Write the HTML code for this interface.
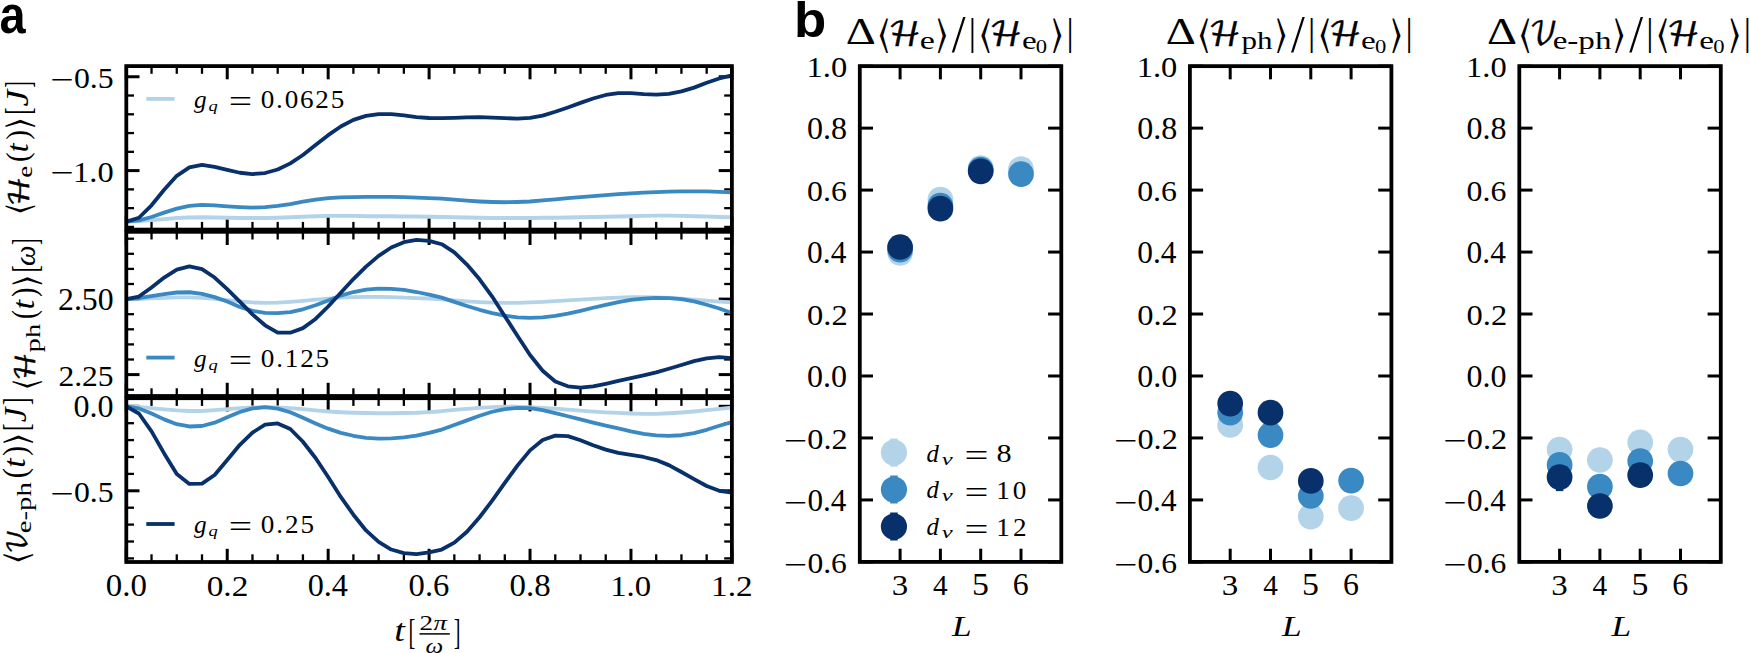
<!DOCTYPE html>
<html lang="en"><head><meta charset="utf-8"><title>Figure</title>
<style>
html,body{margin:0;padding:0;background:#fff;}
body{width:1749px;height:653px;overflow:hidden;}
svg{display:block;}
text{font-kerning:none;white-space:pre;}
</style></head><body>
<svg width="1749" height="653" viewBox="0 0 1749 653">
<rect width="1749" height="653" fill="#fff"/>
<g id="pa0">
<line x1="126.30" y1="66.10" x2="126.30" y2="79.30" stroke="#000" stroke-width="3.0" stroke-linecap="butt"/>
<line x1="126.30" y1="229.60" x2="126.30" y2="216.40" stroke="#000" stroke-width="3.0" stroke-linecap="butt"/>
<line x1="151.53" y1="66.10" x2="151.53" y2="73.80" stroke="#000" stroke-width="2.3" stroke-linecap="butt"/>
<line x1="151.53" y1="229.60" x2="151.53" y2="221.90" stroke="#000" stroke-width="2.3" stroke-linecap="butt"/>
<line x1="176.77" y1="66.10" x2="176.77" y2="73.80" stroke="#000" stroke-width="2.3" stroke-linecap="butt"/>
<line x1="176.77" y1="229.60" x2="176.77" y2="221.90" stroke="#000" stroke-width="2.3" stroke-linecap="butt"/>
<line x1="202.00" y1="66.10" x2="202.00" y2="73.80" stroke="#000" stroke-width="2.3" stroke-linecap="butt"/>
<line x1="202.00" y1="229.60" x2="202.00" y2="221.90" stroke="#000" stroke-width="2.3" stroke-linecap="butt"/>
<line x1="227.23" y1="66.10" x2="227.23" y2="79.30" stroke="#000" stroke-width="3.0" stroke-linecap="butt"/>
<line x1="227.23" y1="229.60" x2="227.23" y2="216.40" stroke="#000" stroke-width="3.0" stroke-linecap="butt"/>
<line x1="252.47" y1="66.10" x2="252.47" y2="73.80" stroke="#000" stroke-width="2.3" stroke-linecap="butt"/>
<line x1="252.47" y1="229.60" x2="252.47" y2="221.90" stroke="#000" stroke-width="2.3" stroke-linecap="butt"/>
<line x1="277.70" y1="66.10" x2="277.70" y2="73.80" stroke="#000" stroke-width="2.3" stroke-linecap="butt"/>
<line x1="277.70" y1="229.60" x2="277.70" y2="221.90" stroke="#000" stroke-width="2.3" stroke-linecap="butt"/>
<line x1="302.93" y1="66.10" x2="302.93" y2="73.80" stroke="#000" stroke-width="2.3" stroke-linecap="butt"/>
<line x1="302.93" y1="229.60" x2="302.93" y2="221.90" stroke="#000" stroke-width="2.3" stroke-linecap="butt"/>
<line x1="328.17" y1="66.10" x2="328.17" y2="79.30" stroke="#000" stroke-width="3.0" stroke-linecap="butt"/>
<line x1="328.17" y1="229.60" x2="328.17" y2="216.40" stroke="#000" stroke-width="3.0" stroke-linecap="butt"/>
<line x1="353.40" y1="66.10" x2="353.40" y2="73.80" stroke="#000" stroke-width="2.3" stroke-linecap="butt"/>
<line x1="353.40" y1="229.60" x2="353.40" y2="221.90" stroke="#000" stroke-width="2.3" stroke-linecap="butt"/>
<line x1="378.63" y1="66.10" x2="378.63" y2="73.80" stroke="#000" stroke-width="2.3" stroke-linecap="butt"/>
<line x1="378.63" y1="229.60" x2="378.63" y2="221.90" stroke="#000" stroke-width="2.3" stroke-linecap="butt"/>
<line x1="403.87" y1="66.10" x2="403.87" y2="73.80" stroke="#000" stroke-width="2.3" stroke-linecap="butt"/>
<line x1="403.87" y1="229.60" x2="403.87" y2="221.90" stroke="#000" stroke-width="2.3" stroke-linecap="butt"/>
<line x1="429.10" y1="66.10" x2="429.10" y2="79.30" stroke="#000" stroke-width="3.0" stroke-linecap="butt"/>
<line x1="429.10" y1="229.60" x2="429.10" y2="216.40" stroke="#000" stroke-width="3.0" stroke-linecap="butt"/>
<line x1="454.33" y1="66.10" x2="454.33" y2="73.80" stroke="#000" stroke-width="2.3" stroke-linecap="butt"/>
<line x1="454.33" y1="229.60" x2="454.33" y2="221.90" stroke="#000" stroke-width="2.3" stroke-linecap="butt"/>
<line x1="479.57" y1="66.10" x2="479.57" y2="73.80" stroke="#000" stroke-width="2.3" stroke-linecap="butt"/>
<line x1="479.57" y1="229.60" x2="479.57" y2="221.90" stroke="#000" stroke-width="2.3" stroke-linecap="butt"/>
<line x1="504.80" y1="66.10" x2="504.80" y2="73.80" stroke="#000" stroke-width="2.3" stroke-linecap="butt"/>
<line x1="504.80" y1="229.60" x2="504.80" y2="221.90" stroke="#000" stroke-width="2.3" stroke-linecap="butt"/>
<line x1="530.03" y1="66.10" x2="530.03" y2="79.30" stroke="#000" stroke-width="3.0" stroke-linecap="butt"/>
<line x1="530.03" y1="229.60" x2="530.03" y2="216.40" stroke="#000" stroke-width="3.0" stroke-linecap="butt"/>
<line x1="555.27" y1="66.10" x2="555.27" y2="73.80" stroke="#000" stroke-width="2.3" stroke-linecap="butt"/>
<line x1="555.27" y1="229.60" x2="555.27" y2="221.90" stroke="#000" stroke-width="2.3" stroke-linecap="butt"/>
<line x1="580.50" y1="66.10" x2="580.50" y2="73.80" stroke="#000" stroke-width="2.3" stroke-linecap="butt"/>
<line x1="580.50" y1="229.60" x2="580.50" y2="221.90" stroke="#000" stroke-width="2.3" stroke-linecap="butt"/>
<line x1="605.73" y1="66.10" x2="605.73" y2="73.80" stroke="#000" stroke-width="2.3" stroke-linecap="butt"/>
<line x1="605.73" y1="229.60" x2="605.73" y2="221.90" stroke="#000" stroke-width="2.3" stroke-linecap="butt"/>
<line x1="630.97" y1="66.10" x2="630.97" y2="79.30" stroke="#000" stroke-width="3.0" stroke-linecap="butt"/>
<line x1="630.97" y1="229.60" x2="630.97" y2="216.40" stroke="#000" stroke-width="3.0" stroke-linecap="butt"/>
<line x1="656.20" y1="66.10" x2="656.20" y2="73.80" stroke="#000" stroke-width="2.3" stroke-linecap="butt"/>
<line x1="656.20" y1="229.60" x2="656.20" y2="221.90" stroke="#000" stroke-width="2.3" stroke-linecap="butt"/>
<line x1="681.43" y1="66.10" x2="681.43" y2="73.80" stroke="#000" stroke-width="2.3" stroke-linecap="butt"/>
<line x1="681.43" y1="229.60" x2="681.43" y2="221.90" stroke="#000" stroke-width="2.3" stroke-linecap="butt"/>
<line x1="706.67" y1="66.10" x2="706.67" y2="73.80" stroke="#000" stroke-width="2.3" stroke-linecap="butt"/>
<line x1="706.67" y1="229.60" x2="706.67" y2="221.90" stroke="#000" stroke-width="2.3" stroke-linecap="butt"/>
<line x1="731.90" y1="66.10" x2="731.90" y2="79.30" stroke="#000" stroke-width="3.0" stroke-linecap="butt"/>
<line x1="731.90" y1="229.60" x2="731.90" y2="216.40" stroke="#000" stroke-width="3.0" stroke-linecap="butt"/>
<line x1="126.30" y1="226.91" x2="134.00" y2="226.91" stroke="#000" stroke-width="2.3" stroke-linecap="butt"/>
<line x1="731.90" y1="226.91" x2="724.20" y2="226.91" stroke="#000" stroke-width="2.3" stroke-linecap="butt"/>
<line x1="126.30" y1="208.14" x2="134.00" y2="208.14" stroke="#000" stroke-width="2.3" stroke-linecap="butt"/>
<line x1="731.90" y1="208.14" x2="724.20" y2="208.14" stroke="#000" stroke-width="2.3" stroke-linecap="butt"/>
<line x1="126.30" y1="189.37" x2="134.00" y2="189.37" stroke="#000" stroke-width="2.3" stroke-linecap="butt"/>
<line x1="731.90" y1="189.37" x2="724.20" y2="189.37" stroke="#000" stroke-width="2.3" stroke-linecap="butt"/>
<line x1="126.30" y1="170.60" x2="139.50" y2="170.60" stroke="#000" stroke-width="3.0" stroke-linecap="butt"/>
<line x1="731.90" y1="170.60" x2="718.70" y2="170.60" stroke="#000" stroke-width="3.0" stroke-linecap="butt"/>
<line x1="126.30" y1="151.83" x2="134.00" y2="151.83" stroke="#000" stroke-width="2.3" stroke-linecap="butt"/>
<line x1="731.90" y1="151.83" x2="724.20" y2="151.83" stroke="#000" stroke-width="2.3" stroke-linecap="butt"/>
<line x1="126.30" y1="133.06" x2="134.00" y2="133.06" stroke="#000" stroke-width="2.3" stroke-linecap="butt"/>
<line x1="731.90" y1="133.06" x2="724.20" y2="133.06" stroke="#000" stroke-width="2.3" stroke-linecap="butt"/>
<line x1="126.30" y1="114.29" x2="134.00" y2="114.29" stroke="#000" stroke-width="2.3" stroke-linecap="butt"/>
<line x1="731.90" y1="114.29" x2="724.20" y2="114.29" stroke="#000" stroke-width="2.3" stroke-linecap="butt"/>
<line x1="126.30" y1="95.52" x2="134.00" y2="95.52" stroke="#000" stroke-width="2.3" stroke-linecap="butt"/>
<line x1="731.90" y1="95.52" x2="724.20" y2="95.52" stroke="#000" stroke-width="2.3" stroke-linecap="butt"/>
<line x1="126.30" y1="76.75" x2="139.50" y2="76.75" stroke="#000" stroke-width="3.0" stroke-linecap="butt"/>
<line x1="731.90" y1="76.75" x2="718.70" y2="76.75" stroke="#000" stroke-width="3.0" stroke-linecap="butt"/>
<clipPath id="cl0"><rect x="126.3" y="66.1" width="605.6" height="163.5"/></clipPath>
<g clip-path="url(#cl0)" fill="none" stroke-width="3.8" stroke-linejoin="round" stroke-linecap="butt">
<path d="M126.30,221.57 L138.92,221.06 L151.53,220.04 L164.15,219.02 L176.77,218.01 L189.38,217.50 L202.00,217.25 L214.62,217.50 L227.23,217.75 L239.85,218.01 L252.47,218.01 L265.08,218.01 L277.70,217.75 L290.32,217.25 L302.93,216.74 L315.55,216.23 L328.17,215.97 L340.78,215.97 L353.40,215.97 L366.02,216.23 L378.63,216.23 L391.25,216.23 L403.87,216.48 L416.48,216.48 L429.10,216.74 L441.72,216.99 L454.33,217.25 L466.95,217.50 L479.57,217.75 L492.18,218.01 L504.80,218.01 L517.42,218.01 L530.03,218.01 L542.65,217.75 L555.27,217.75 L567.88,217.50 L580.50,217.25 L593.12,216.99 L605.73,216.74 L618.35,216.48 L630.97,216.23 L643.58,215.97 L656.20,215.72 L668.82,215.72 L681.43,215.97 L694.05,216.23 L706.67,216.48 L719.28,216.99 L731.90,217.25" stroke="#b3d3e8"/>
<path d="M126.30,221.57 L138.92,220.30 L151.53,216.99 L164.15,212.67 L176.77,208.60 L189.38,205.81 L202.00,204.79 L214.62,205.30 L227.23,206.32 L239.85,207.08 L252.47,207.59 L265.08,207.08 L277.70,205.81 L290.32,204.03 L302.93,201.74 L315.55,199.71 L328.17,198.18 L340.78,197.42 L353.40,197.16 L366.02,196.91 L378.63,196.91 L391.25,196.91 L403.87,197.16 L416.48,197.67 L429.10,198.05 L441.72,198.69 L454.33,199.71 L466.95,200.72 L479.57,201.49 L492.18,201.99 L504.80,202.25 L517.42,201.99 L530.03,201.49 L542.65,200.47 L555.27,199.45 L567.88,198.18 L580.50,197.16 L593.12,196.15 L605.73,195.13 L618.35,194.11 L630.97,193.35 L643.58,192.59 L656.20,192.08 L668.82,191.57 L681.43,191.32 L694.05,191.32 L706.67,191.32 L719.28,191.83 L731.90,192.33" stroke="#3a89c2"/>
<path d="M126.30,221.57 L138.92,217.75 L151.53,205.30 L164.15,189.79 L176.77,175.81 L189.38,167.42 L202.00,164.88 L214.62,166.92 L227.23,169.97 L239.85,172.76 L252.47,174.03 L265.08,173.02 L277.70,169.46 L290.32,163.36 L302.93,154.97 L315.55,145.05 L328.17,135.14 L340.78,126.50 L353.40,119.89 L366.02,115.82 L378.63,114.04 L391.25,114.04 L403.87,115.31 L416.48,117.09 L429.10,117.98 L441.72,118.11 L454.33,117.86 L466.95,117.35 L479.57,117.09 L492.18,117.60 L504.80,118.11 L517.42,118.62 L530.03,117.86 L542.65,115.57 L555.27,111.75 L567.88,107.43 L580.50,102.86 L593.12,98.54 L605.73,94.98 L618.35,93.20 L630.97,93.20 L643.58,94.22 L656.20,94.72 L668.82,93.96 L681.43,91.42 L694.05,87.61 L706.67,82.78 L719.28,78.46 L731.90,75.41" stroke="#08306b"/>
</g>
<rect x="126.3" y="66.1" width="605.60" height="163.50" fill="none" stroke="#000" stroke-width="3.8"/>
<text transform="translate(50.03,89.55) scale(1.3599,1)" font-family='"Liberation Serif", serif'  font-size="30.5" fill="#000" >−</text>
<text transform="translate(73.89,87.65) scale(1.0427,1)" font-family='"Liberation Serif", serif'  font-size="30.5" fill="#000" >0.5</text>
<text transform="translate(50.03,183.40) scale(1.3599,1)" font-family='"Liberation Serif", serif'  font-size="30.5" fill="#000" >−</text>
<text transform="translate(73.05,181.50) scale(1.0647,1)" font-family='"Liberation Serif", serif'  font-size="30.5" fill="#000" >1.0</text>
</g>
<g id="pa1">
<line x1="126.30" y1="231.80" x2="126.30" y2="245.00" stroke="#000" stroke-width="3.0" stroke-linecap="butt"/>
<line x1="126.30" y1="396.00" x2="126.30" y2="382.80" stroke="#000" stroke-width="3.0" stroke-linecap="butt"/>
<line x1="151.53" y1="231.80" x2="151.53" y2="239.50" stroke="#000" stroke-width="2.3" stroke-linecap="butt"/>
<line x1="151.53" y1="396.00" x2="151.53" y2="388.30" stroke="#000" stroke-width="2.3" stroke-linecap="butt"/>
<line x1="176.77" y1="231.80" x2="176.77" y2="239.50" stroke="#000" stroke-width="2.3" stroke-linecap="butt"/>
<line x1="176.77" y1="396.00" x2="176.77" y2="388.30" stroke="#000" stroke-width="2.3" stroke-linecap="butt"/>
<line x1="202.00" y1="231.80" x2="202.00" y2="239.50" stroke="#000" stroke-width="2.3" stroke-linecap="butt"/>
<line x1="202.00" y1="396.00" x2="202.00" y2="388.30" stroke="#000" stroke-width="2.3" stroke-linecap="butt"/>
<line x1="227.23" y1="231.80" x2="227.23" y2="245.00" stroke="#000" stroke-width="3.0" stroke-linecap="butt"/>
<line x1="227.23" y1="396.00" x2="227.23" y2="382.80" stroke="#000" stroke-width="3.0" stroke-linecap="butt"/>
<line x1="252.47" y1="231.80" x2="252.47" y2="239.50" stroke="#000" stroke-width="2.3" stroke-linecap="butt"/>
<line x1="252.47" y1="396.00" x2="252.47" y2="388.30" stroke="#000" stroke-width="2.3" stroke-linecap="butt"/>
<line x1="277.70" y1="231.80" x2="277.70" y2="239.50" stroke="#000" stroke-width="2.3" stroke-linecap="butt"/>
<line x1="277.70" y1="396.00" x2="277.70" y2="388.30" stroke="#000" stroke-width="2.3" stroke-linecap="butt"/>
<line x1="302.93" y1="231.80" x2="302.93" y2="239.50" stroke="#000" stroke-width="2.3" stroke-linecap="butt"/>
<line x1="302.93" y1="396.00" x2="302.93" y2="388.30" stroke="#000" stroke-width="2.3" stroke-linecap="butt"/>
<line x1="328.17" y1="231.80" x2="328.17" y2="245.00" stroke="#000" stroke-width="3.0" stroke-linecap="butt"/>
<line x1="328.17" y1="396.00" x2="328.17" y2="382.80" stroke="#000" stroke-width="3.0" stroke-linecap="butt"/>
<line x1="353.40" y1="231.80" x2="353.40" y2="239.50" stroke="#000" stroke-width="2.3" stroke-linecap="butt"/>
<line x1="353.40" y1="396.00" x2="353.40" y2="388.30" stroke="#000" stroke-width="2.3" stroke-linecap="butt"/>
<line x1="378.63" y1="231.80" x2="378.63" y2="239.50" stroke="#000" stroke-width="2.3" stroke-linecap="butt"/>
<line x1="378.63" y1="396.00" x2="378.63" y2="388.30" stroke="#000" stroke-width="2.3" stroke-linecap="butt"/>
<line x1="403.87" y1="231.80" x2="403.87" y2="239.50" stroke="#000" stroke-width="2.3" stroke-linecap="butt"/>
<line x1="403.87" y1="396.00" x2="403.87" y2="388.30" stroke="#000" stroke-width="2.3" stroke-linecap="butt"/>
<line x1="429.10" y1="231.80" x2="429.10" y2="245.00" stroke="#000" stroke-width="3.0" stroke-linecap="butt"/>
<line x1="429.10" y1="396.00" x2="429.10" y2="382.80" stroke="#000" stroke-width="3.0" stroke-linecap="butt"/>
<line x1="454.33" y1="231.80" x2="454.33" y2="239.50" stroke="#000" stroke-width="2.3" stroke-linecap="butt"/>
<line x1="454.33" y1="396.00" x2="454.33" y2="388.30" stroke="#000" stroke-width="2.3" stroke-linecap="butt"/>
<line x1="479.57" y1="231.80" x2="479.57" y2="239.50" stroke="#000" stroke-width="2.3" stroke-linecap="butt"/>
<line x1="479.57" y1="396.00" x2="479.57" y2="388.30" stroke="#000" stroke-width="2.3" stroke-linecap="butt"/>
<line x1="504.80" y1="231.80" x2="504.80" y2="239.50" stroke="#000" stroke-width="2.3" stroke-linecap="butt"/>
<line x1="504.80" y1="396.00" x2="504.80" y2="388.30" stroke="#000" stroke-width="2.3" stroke-linecap="butt"/>
<line x1="530.03" y1="231.80" x2="530.03" y2="245.00" stroke="#000" stroke-width="3.0" stroke-linecap="butt"/>
<line x1="530.03" y1="396.00" x2="530.03" y2="382.80" stroke="#000" stroke-width="3.0" stroke-linecap="butt"/>
<line x1="555.27" y1="231.80" x2="555.27" y2="239.50" stroke="#000" stroke-width="2.3" stroke-linecap="butt"/>
<line x1="555.27" y1="396.00" x2="555.27" y2="388.30" stroke="#000" stroke-width="2.3" stroke-linecap="butt"/>
<line x1="580.50" y1="231.80" x2="580.50" y2="239.50" stroke="#000" stroke-width="2.3" stroke-linecap="butt"/>
<line x1="580.50" y1="396.00" x2="580.50" y2="388.30" stroke="#000" stroke-width="2.3" stroke-linecap="butt"/>
<line x1="605.73" y1="231.80" x2="605.73" y2="239.50" stroke="#000" stroke-width="2.3" stroke-linecap="butt"/>
<line x1="605.73" y1="396.00" x2="605.73" y2="388.30" stroke="#000" stroke-width="2.3" stroke-linecap="butt"/>
<line x1="630.97" y1="231.80" x2="630.97" y2="245.00" stroke="#000" stroke-width="3.0" stroke-linecap="butt"/>
<line x1="630.97" y1="396.00" x2="630.97" y2="382.80" stroke="#000" stroke-width="3.0" stroke-linecap="butt"/>
<line x1="656.20" y1="231.80" x2="656.20" y2="239.50" stroke="#000" stroke-width="2.3" stroke-linecap="butt"/>
<line x1="656.20" y1="396.00" x2="656.20" y2="388.30" stroke="#000" stroke-width="2.3" stroke-linecap="butt"/>
<line x1="681.43" y1="231.80" x2="681.43" y2="239.50" stroke="#000" stroke-width="2.3" stroke-linecap="butt"/>
<line x1="681.43" y1="396.00" x2="681.43" y2="388.30" stroke="#000" stroke-width="2.3" stroke-linecap="butt"/>
<line x1="706.67" y1="231.80" x2="706.67" y2="239.50" stroke="#000" stroke-width="2.3" stroke-linecap="butt"/>
<line x1="706.67" y1="396.00" x2="706.67" y2="388.30" stroke="#000" stroke-width="2.3" stroke-linecap="butt"/>
<line x1="731.90" y1="231.80" x2="731.90" y2="245.00" stroke="#000" stroke-width="3.0" stroke-linecap="butt"/>
<line x1="731.90" y1="396.00" x2="731.90" y2="382.80" stroke="#000" stroke-width="3.0" stroke-linecap="butt"/>
<line x1="126.30" y1="389.70" x2="134.00" y2="389.70" stroke="#000" stroke-width="2.3" stroke-linecap="butt"/>
<line x1="731.90" y1="389.70" x2="724.20" y2="389.70" stroke="#000" stroke-width="2.3" stroke-linecap="butt"/>
<line x1="126.30" y1="374.60" x2="139.50" y2="374.60" stroke="#000" stroke-width="3.0" stroke-linecap="butt"/>
<line x1="731.90" y1="374.60" x2="718.70" y2="374.60" stroke="#000" stroke-width="3.0" stroke-linecap="butt"/>
<line x1="126.30" y1="359.50" x2="134.00" y2="359.50" stroke="#000" stroke-width="2.3" stroke-linecap="butt"/>
<line x1="731.90" y1="359.50" x2="724.20" y2="359.50" stroke="#000" stroke-width="2.3" stroke-linecap="butt"/>
<line x1="126.30" y1="344.40" x2="134.00" y2="344.40" stroke="#000" stroke-width="2.3" stroke-linecap="butt"/>
<line x1="731.90" y1="344.40" x2="724.20" y2="344.40" stroke="#000" stroke-width="2.3" stroke-linecap="butt"/>
<line x1="126.30" y1="329.30" x2="134.00" y2="329.30" stroke="#000" stroke-width="2.3" stroke-linecap="butt"/>
<line x1="731.90" y1="329.30" x2="724.20" y2="329.30" stroke="#000" stroke-width="2.3" stroke-linecap="butt"/>
<line x1="126.30" y1="314.20" x2="134.00" y2="314.20" stroke="#000" stroke-width="2.3" stroke-linecap="butt"/>
<line x1="731.90" y1="314.20" x2="724.20" y2="314.20" stroke="#000" stroke-width="2.3" stroke-linecap="butt"/>
<line x1="126.30" y1="299.10" x2="139.50" y2="299.10" stroke="#000" stroke-width="3.0" stroke-linecap="butt"/>
<line x1="731.90" y1="299.10" x2="718.70" y2="299.10" stroke="#000" stroke-width="3.0" stroke-linecap="butt"/>
<line x1="126.30" y1="284.00" x2="134.00" y2="284.00" stroke="#000" stroke-width="2.3" stroke-linecap="butt"/>
<line x1="731.90" y1="284.00" x2="724.20" y2="284.00" stroke="#000" stroke-width="2.3" stroke-linecap="butt"/>
<line x1="126.30" y1="268.90" x2="134.00" y2="268.90" stroke="#000" stroke-width="2.3" stroke-linecap="butt"/>
<line x1="731.90" y1="268.90" x2="724.20" y2="268.90" stroke="#000" stroke-width="2.3" stroke-linecap="butt"/>
<line x1="126.30" y1="253.80" x2="134.00" y2="253.80" stroke="#000" stroke-width="2.3" stroke-linecap="butt"/>
<line x1="731.90" y1="253.80" x2="724.20" y2="253.80" stroke="#000" stroke-width="2.3" stroke-linecap="butt"/>
<line x1="126.30" y1="238.70" x2="134.00" y2="238.70" stroke="#000" stroke-width="2.3" stroke-linecap="butt"/>
<line x1="731.90" y1="238.70" x2="724.20" y2="238.70" stroke="#000" stroke-width="2.3" stroke-linecap="butt"/>
<clipPath id="cl1"><rect x="126.3" y="231.8" width="605.6" height="164.2"/></clipPath>
<g clip-path="url(#cl1)" fill="none" stroke-width="3.8" stroke-linejoin="round" stroke-linecap="butt">
<path d="M126.30,299.12 L138.92,298.87 L151.53,298.36 L164.15,297.85 L176.77,297.34 L189.38,297.34 L202.00,297.85 L214.62,298.87 L227.23,300.14 L239.85,301.41 L252.47,302.43 L265.08,302.94 L277.70,302.68 L290.32,301.92 L302.93,300.90 L315.55,299.63 L328.17,298.62 L340.78,297.60 L353.40,297.09 L366.02,296.84 L378.63,296.84 L391.25,297.09 L403.87,297.60 L416.48,298.11 L429.10,298.49 L441.72,299.38 L454.33,300.40 L466.95,301.41 L479.57,302.17 L492.18,302.68 L504.80,302.94 L517.42,302.94 L530.03,302.43 L542.65,301.92 L555.27,301.16 L567.88,300.40 L580.50,299.63 L593.12,298.87 L605.73,298.11 L618.35,297.60 L630.97,297.09 L643.58,297.09 L656.20,297.34 L668.82,297.85 L681.43,298.62 L694.05,299.63 L706.67,300.65 L719.28,301.67 L731.90,302.43" stroke="#b3d3e8"/>
<path d="M126.30,299.12 L138.92,298.11 L151.53,296.07 L164.15,294.04 L176.77,292.51 L189.38,292.26 L202.00,293.79 L214.62,297.09 L227.23,301.54 L239.85,306.88 L252.47,310.82 L265.08,312.85 L277.70,313.10 L290.32,312.09 L302.93,309.29 L315.55,305.22 L328.17,300.40 L340.78,295.57 L353.40,292.01 L366.02,289.72 L378.63,288.70 L391.25,288.96 L403.87,289.97 L416.48,292.01 L429.10,294.68 L441.72,297.60 L454.33,301.92 L466.95,305.99 L479.57,309.80 L492.18,313.10 L504.80,315.65 L517.42,317.43 L530.03,317.93 L542.65,317.43 L555.27,315.90 L567.88,313.61 L580.50,310.82 L593.12,307.77 L605.73,304.97 L618.35,302.17 L630.97,299.89 L643.58,298.62 L656.20,297.85 L668.82,298.11 L681.43,299.12 L694.05,301.41 L706.67,304.72 L719.28,308.53 L731.90,312.85" stroke="#3a89c2"/>
<path d="M126.30,299.12 L138.92,296.58 L151.53,287.43 L164.15,277.52 L176.77,269.64 L189.38,266.33 L202.00,269.13 L214.62,277.52 L227.23,289.21 L239.85,301.67 L252.47,314.38 L265.08,325.31 L277.70,332.68 L290.32,332.68 L302.93,328.10 L315.55,318.95 L328.17,306.50 L340.78,292.77 L353.40,279.04 L366.02,266.59 L378.63,255.91 L391.25,247.52 L403.87,242.18 L416.48,239.90 L429.10,240.91 L441.72,244.22 L454.33,252.35 L466.95,264.55 L479.57,279.30 L492.18,296.58 L504.80,316.16 L517.42,335.73 L530.03,355.05 L542.65,370.81 L555.27,381.48 L567.88,386.31 L580.50,387.58 L593.12,386.31 L605.73,383.77 L618.35,380.97 L630.97,378.18 L643.58,375.38 L656.20,372.33 L668.82,368.77 L681.43,364.96 L694.05,361.15 L706.67,358.35 L719.28,357.08 L731.90,358.10" stroke="#08306b"/>
</g>
<rect x="126.3" y="231.8" width="605.60" height="164.20" fill="none" stroke="#000" stroke-width="3.8"/>
<text transform="translate(58.00,310.00) scale(1.0418,1)" font-family='"Liberation Serif", serif'  font-size="30.5" fill="#000" >2.50</text>
<text transform="translate(58.41,385.50) scale(1.0346,1)" font-family='"Liberation Serif", serif'  font-size="30.5" fill="#000" >2.25</text>
</g>
<g id="pa2">
<line x1="126.30" y1="398.20" x2="126.30" y2="411.40" stroke="#000" stroke-width="3.0" stroke-linecap="butt"/>
<line x1="126.30" y1="562.00" x2="126.30" y2="548.80" stroke="#000" stroke-width="3.0" stroke-linecap="butt"/>
<line x1="151.53" y1="398.20" x2="151.53" y2="405.90" stroke="#000" stroke-width="2.3" stroke-linecap="butt"/>
<line x1="151.53" y1="562.00" x2="151.53" y2="554.30" stroke="#000" stroke-width="2.3" stroke-linecap="butt"/>
<line x1="176.77" y1="398.20" x2="176.77" y2="405.90" stroke="#000" stroke-width="2.3" stroke-linecap="butt"/>
<line x1="176.77" y1="562.00" x2="176.77" y2="554.30" stroke="#000" stroke-width="2.3" stroke-linecap="butt"/>
<line x1="202.00" y1="398.20" x2="202.00" y2="405.90" stroke="#000" stroke-width="2.3" stroke-linecap="butt"/>
<line x1="202.00" y1="562.00" x2="202.00" y2="554.30" stroke="#000" stroke-width="2.3" stroke-linecap="butt"/>
<line x1="227.23" y1="398.20" x2="227.23" y2="411.40" stroke="#000" stroke-width="3.0" stroke-linecap="butt"/>
<line x1="227.23" y1="562.00" x2="227.23" y2="548.80" stroke="#000" stroke-width="3.0" stroke-linecap="butt"/>
<line x1="252.47" y1="398.20" x2="252.47" y2="405.90" stroke="#000" stroke-width="2.3" stroke-linecap="butt"/>
<line x1="252.47" y1="562.00" x2="252.47" y2="554.30" stroke="#000" stroke-width="2.3" stroke-linecap="butt"/>
<line x1="277.70" y1="398.20" x2="277.70" y2="405.90" stroke="#000" stroke-width="2.3" stroke-linecap="butt"/>
<line x1="277.70" y1="562.00" x2="277.70" y2="554.30" stroke="#000" stroke-width="2.3" stroke-linecap="butt"/>
<line x1="302.93" y1="398.20" x2="302.93" y2="405.90" stroke="#000" stroke-width="2.3" stroke-linecap="butt"/>
<line x1="302.93" y1="562.00" x2="302.93" y2="554.30" stroke="#000" stroke-width="2.3" stroke-linecap="butt"/>
<line x1="328.17" y1="398.20" x2="328.17" y2="411.40" stroke="#000" stroke-width="3.0" stroke-linecap="butt"/>
<line x1="328.17" y1="562.00" x2="328.17" y2="548.80" stroke="#000" stroke-width="3.0" stroke-linecap="butt"/>
<line x1="353.40" y1="398.20" x2="353.40" y2="405.90" stroke="#000" stroke-width="2.3" stroke-linecap="butt"/>
<line x1="353.40" y1="562.00" x2="353.40" y2="554.30" stroke="#000" stroke-width="2.3" stroke-linecap="butt"/>
<line x1="378.63" y1="398.20" x2="378.63" y2="405.90" stroke="#000" stroke-width="2.3" stroke-linecap="butt"/>
<line x1="378.63" y1="562.00" x2="378.63" y2="554.30" stroke="#000" stroke-width="2.3" stroke-linecap="butt"/>
<line x1="403.87" y1="398.20" x2="403.87" y2="405.90" stroke="#000" stroke-width="2.3" stroke-linecap="butt"/>
<line x1="403.87" y1="562.00" x2="403.87" y2="554.30" stroke="#000" stroke-width="2.3" stroke-linecap="butt"/>
<line x1="429.10" y1="398.20" x2="429.10" y2="411.40" stroke="#000" stroke-width="3.0" stroke-linecap="butt"/>
<line x1="429.10" y1="562.00" x2="429.10" y2="548.80" stroke="#000" stroke-width="3.0" stroke-linecap="butt"/>
<line x1="454.33" y1="398.20" x2="454.33" y2="405.90" stroke="#000" stroke-width="2.3" stroke-linecap="butt"/>
<line x1="454.33" y1="562.00" x2="454.33" y2="554.30" stroke="#000" stroke-width="2.3" stroke-linecap="butt"/>
<line x1="479.57" y1="398.20" x2="479.57" y2="405.90" stroke="#000" stroke-width="2.3" stroke-linecap="butt"/>
<line x1="479.57" y1="562.00" x2="479.57" y2="554.30" stroke="#000" stroke-width="2.3" stroke-linecap="butt"/>
<line x1="504.80" y1="398.20" x2="504.80" y2="405.90" stroke="#000" stroke-width="2.3" stroke-linecap="butt"/>
<line x1="504.80" y1="562.00" x2="504.80" y2="554.30" stroke="#000" stroke-width="2.3" stroke-linecap="butt"/>
<line x1="530.03" y1="398.20" x2="530.03" y2="411.40" stroke="#000" stroke-width="3.0" stroke-linecap="butt"/>
<line x1="530.03" y1="562.00" x2="530.03" y2="548.80" stroke="#000" stroke-width="3.0" stroke-linecap="butt"/>
<line x1="555.27" y1="398.20" x2="555.27" y2="405.90" stroke="#000" stroke-width="2.3" stroke-linecap="butt"/>
<line x1="555.27" y1="562.00" x2="555.27" y2="554.30" stroke="#000" stroke-width="2.3" stroke-linecap="butt"/>
<line x1="580.50" y1="398.20" x2="580.50" y2="405.90" stroke="#000" stroke-width="2.3" stroke-linecap="butt"/>
<line x1="580.50" y1="562.00" x2="580.50" y2="554.30" stroke="#000" stroke-width="2.3" stroke-linecap="butt"/>
<line x1="605.73" y1="398.20" x2="605.73" y2="405.90" stroke="#000" stroke-width="2.3" stroke-linecap="butt"/>
<line x1="605.73" y1="562.00" x2="605.73" y2="554.30" stroke="#000" stroke-width="2.3" stroke-linecap="butt"/>
<line x1="630.97" y1="398.20" x2="630.97" y2="411.40" stroke="#000" stroke-width="3.0" stroke-linecap="butt"/>
<line x1="630.97" y1="562.00" x2="630.97" y2="548.80" stroke="#000" stroke-width="3.0" stroke-linecap="butt"/>
<line x1="656.20" y1="398.20" x2="656.20" y2="405.90" stroke="#000" stroke-width="2.3" stroke-linecap="butt"/>
<line x1="656.20" y1="562.00" x2="656.20" y2="554.30" stroke="#000" stroke-width="2.3" stroke-linecap="butt"/>
<line x1="681.43" y1="398.20" x2="681.43" y2="405.90" stroke="#000" stroke-width="2.3" stroke-linecap="butt"/>
<line x1="681.43" y1="562.00" x2="681.43" y2="554.30" stroke="#000" stroke-width="2.3" stroke-linecap="butt"/>
<line x1="706.67" y1="398.20" x2="706.67" y2="405.90" stroke="#000" stroke-width="2.3" stroke-linecap="butt"/>
<line x1="706.67" y1="562.00" x2="706.67" y2="554.30" stroke="#000" stroke-width="2.3" stroke-linecap="butt"/>
<line x1="731.90" y1="398.20" x2="731.90" y2="411.40" stroke="#000" stroke-width="3.0" stroke-linecap="butt"/>
<line x1="731.90" y1="562.00" x2="731.90" y2="548.80" stroke="#000" stroke-width="3.0" stroke-linecap="butt"/>
<line x1="126.30" y1="558.40" x2="134.00" y2="558.40" stroke="#000" stroke-width="2.3" stroke-linecap="butt"/>
<line x1="731.90" y1="558.40" x2="724.20" y2="558.40" stroke="#000" stroke-width="2.3" stroke-linecap="butt"/>
<line x1="126.30" y1="541.50" x2="134.00" y2="541.50" stroke="#000" stroke-width="2.3" stroke-linecap="butt"/>
<line x1="731.90" y1="541.50" x2="724.20" y2="541.50" stroke="#000" stroke-width="2.3" stroke-linecap="butt"/>
<line x1="126.30" y1="524.60" x2="134.00" y2="524.60" stroke="#000" stroke-width="2.3" stroke-linecap="butt"/>
<line x1="731.90" y1="524.60" x2="724.20" y2="524.60" stroke="#000" stroke-width="2.3" stroke-linecap="butt"/>
<line x1="126.30" y1="507.70" x2="134.00" y2="507.70" stroke="#000" stroke-width="2.3" stroke-linecap="butt"/>
<line x1="731.90" y1="507.70" x2="724.20" y2="507.70" stroke="#000" stroke-width="2.3" stroke-linecap="butt"/>
<line x1="126.30" y1="490.80" x2="139.50" y2="490.80" stroke="#000" stroke-width="3.0" stroke-linecap="butt"/>
<line x1="731.90" y1="490.80" x2="718.70" y2="490.80" stroke="#000" stroke-width="3.0" stroke-linecap="butt"/>
<line x1="126.30" y1="473.90" x2="134.00" y2="473.90" stroke="#000" stroke-width="2.3" stroke-linecap="butt"/>
<line x1="731.90" y1="473.90" x2="724.20" y2="473.90" stroke="#000" stroke-width="2.3" stroke-linecap="butt"/>
<line x1="126.30" y1="457.00" x2="134.00" y2="457.00" stroke="#000" stroke-width="2.3" stroke-linecap="butt"/>
<line x1="731.90" y1="457.00" x2="724.20" y2="457.00" stroke="#000" stroke-width="2.3" stroke-linecap="butt"/>
<line x1="126.30" y1="440.10" x2="134.00" y2="440.10" stroke="#000" stroke-width="2.3" stroke-linecap="butt"/>
<line x1="731.90" y1="440.10" x2="724.20" y2="440.10" stroke="#000" stroke-width="2.3" stroke-linecap="butt"/>
<line x1="126.30" y1="423.20" x2="134.00" y2="423.20" stroke="#000" stroke-width="2.3" stroke-linecap="butt"/>
<line x1="731.90" y1="423.20" x2="724.20" y2="423.20" stroke="#000" stroke-width="2.3" stroke-linecap="butt"/>
<line x1="126.30" y1="406.30" x2="139.50" y2="406.30" stroke="#000" stroke-width="3.0" stroke-linecap="butt"/>
<line x1="731.90" y1="406.30" x2="718.70" y2="406.30" stroke="#000" stroke-width="3.0" stroke-linecap="butt"/>
<clipPath id="cl2"><rect x="126.3" y="398.2" width="605.6" height="163.8"/></clipPath>
<g clip-path="url(#cl2)" fill="none" stroke-width="3.8" stroke-linejoin="round" stroke-linecap="butt">
<path d="M126.30,406.41 L138.92,406.91 L151.53,408.18 L164.15,409.46 L176.77,410.47 L189.38,410.98 L202.00,410.98 L214.62,410.22 L227.23,409.20 L239.85,408.18 L252.47,407.42 L265.08,407.17 L277.70,407.42 L290.32,408.18 L302.93,409.20 L315.55,410.47 L328.17,411.49 L340.78,412.25 L353.40,412.76 L366.02,413.01 L378.63,413.27 L391.25,413.27 L403.87,413.01 L416.48,412.76 L429.10,412.12 L441.72,411.23 L454.33,409.96 L466.95,408.95 L479.57,407.93 L492.18,407.17 L504.80,406.66 L517.42,406.66 L530.03,407.17 L542.65,407.93 L555.27,408.57 L567.88,409.58 L580.50,410.60 L593.12,411.62 L605.73,412.38 L618.35,412.89 L630.97,413.52 L643.58,413.78 L656.20,413.78 L668.82,413.27 L681.43,412.51 L694.05,411.49 L706.67,410.22 L719.28,408.95 L731.90,407.68" stroke="#b3d3e8"/>
<path d="M126.30,406.41 L138.92,408.44 L151.53,413.52 L164.15,419.37 L176.77,424.20 L189.38,426.49 L202.00,425.98 L214.62,422.67 L227.23,417.34 L239.85,412.00 L252.47,408.44 L265.08,407.17 L277.70,408.69 L290.32,412.25 L302.93,417.72 L315.55,423.44 L328.17,428.65 L340.78,432.84 L353.40,435.76 L366.02,437.80 L378.63,438.64 L391.25,438.43 L403.87,437.42 L416.48,435.64 L429.10,432.84 L441.72,429.54 L454.33,424.96 L466.95,420.39 L479.57,415.81 L492.18,411.74 L504.80,409.20 L517.42,407.93 L530.03,408.18 L542.65,410.22 L555.27,413.14 L567.88,416.24 L580.50,419.37 L593.12,422.55 L605.73,425.62 L618.35,428.37 L630.97,431.32 L643.58,433.86 L656.20,435.43 L668.82,435.89 L681.43,435.23 L694.05,433.04 L706.67,429.79 L719.28,425.72 L731.90,422.17" stroke="#3a89c2"/>
<path d="M126.30,406.41 L138.92,413.52 L151.53,431.32 L164.15,453.43 L176.77,474.02 L189.38,483.93 L202.00,483.68 L214.62,475.04 L227.23,460.04 L239.85,444.79 L252.47,432.59 L265.08,424.71 L277.70,423.44 L290.32,429.03 L302.93,441.74 L315.55,458.01 L328.17,477.07 L340.78,496.90 L353.40,514.69 L366.02,530.45 L378.63,541.89 L391.25,549.52 L403.87,553.08 L416.48,554.09 L429.10,552.31 L441.72,549.52 L454.33,542.65 L466.95,531.72 L479.57,517.23 L492.18,500.71 L504.80,482.92 L517.42,465.63 L530.03,450.38 L542.65,439.96 L555.27,435.64 L567.88,436.15 L580.50,440.21 L593.12,445.30 L605.73,449.62 L618.35,452.92 L630.97,454.96 L643.58,456.99 L656.20,460.04 L668.82,465.12 L681.43,471.99 L694.05,479.10 L706.67,485.97 L719.28,490.80 L731.90,492.58" stroke="#08306b"/>
</g>
<rect x="126.3" y="398.2" width="605.60" height="163.80" fill="none" stroke="#000" stroke-width="3.8"/>
<text transform="translate(73.58,417.20) scale(1.0502,1)" font-family='"Liberation Serif", serif'  font-size="30.5" fill="#000" >0.0</text>
<text transform="translate(50.03,503.60) scale(1.3599,1)" font-family='"Liberation Serif", serif'  font-size="30.5" fill="#000" >−</text>
<text transform="translate(73.89,501.70) scale(1.0427,1)" font-family='"Liberation Serif", serif'  font-size="30.5" fill="#000" >0.5</text>
</g>
<text transform="translate(105.75,595.60) scale(1.0782,1)" font-family='"Liberation Serif", serif'  font-size="30.5" fill="#000" >0.0</text>
<text transform="translate(206.66,595.60) scale(1.0941,1)" font-family='"Liberation Serif", serif'  font-size="30.5" fill="#000" >0.2</text>
<text transform="translate(307.64,595.60) scale(1.0579,1)" font-family='"Liberation Serif", serif'  font-size="30.5" fill="#000" >0.4</text>
<text transform="translate(408.56,595.60) scale(1.0706,1)" font-family='"Liberation Serif", serif'  font-size="30.5" fill="#000" >0.6</text>
<text transform="translate(509.48,595.60) scale(1.0782,1)" font-family='"Liberation Serif", serif'  font-size="30.5" fill="#000" >0.8</text>
<text transform="translate(610.19,595.60) scale(1.0734,1)" font-family='"Liberation Serif", serif'  font-size="30.5" fill="#000" >1.0</text>
<text transform="translate(711.08,595.60) scale(1.0900,1)" font-family='"Liberation Serif", serif'  font-size="30.5" fill="#000" >1.2</text>
<line x1="146.30" y1="98.90" x2="174.60" y2="98.90" stroke="#b3d3e8" stroke-width="3.8" stroke-linecap="butt"/>
<text transform="translate(194.09,107.83) scale(1.0422,1)" font-family='"Liberation Serif", serif' font-style="italic" font-size="24.28" fill="#000">g</text>
<text transform="translate(208.59,111.46) scale(1.2527,1)" font-family='"Liberation Serif", serif' font-style="italic" font-size="14.76" fill="#000">q</text>
<text transform="translate(228.73,112.41) scale(1.2801,1)" font-family='"Liberation Serif", serif'  font-size="32.40" fill="#000">=</text>
<text transform="translate(260.77,107.90) scale(1.09,1)" font-family='"Liberation Serif", serif'  font-size="24.9" fill="#000" style="letter-spacing:1.625px">0.0625</text>
<line x1="146.30" y1="357.60" x2="174.60" y2="357.60" stroke="#3a89c2" stroke-width="3.8" stroke-linecap="butt"/>
<text transform="translate(194.09,366.63) scale(1.0422,1)" font-family='"Liberation Serif", serif' font-style="italic" font-size="24.28" fill="#000">g</text>
<text transform="translate(208.59,370.26) scale(1.2527,1)" font-family='"Liberation Serif", serif' font-style="italic" font-size="14.76" fill="#000">q</text>
<text transform="translate(228.73,371.21) scale(1.2801,1)" font-family='"Liberation Serif", serif'  font-size="32.40" fill="#000">=</text>
<text transform="translate(260.77,366.70) scale(1.09,1)" font-family='"Liberation Serif", serif'  font-size="24.9" fill="#000" style="letter-spacing:1.680px">0.125</text>
<line x1="146.30" y1="524.00" x2="174.60" y2="524.00" stroke="#08306b" stroke-width="3.8" stroke-linecap="butt"/>
<text transform="translate(194.09,532.73) scale(1.0422,1)" font-family='"Liberation Serif", serif' font-style="italic" font-size="24.28" fill="#000">g</text>
<text transform="translate(208.59,536.36) scale(1.2527,1)" font-family='"Liberation Serif", serif' font-style="italic" font-size="14.76" fill="#000">q</text>
<text transform="translate(228.73,537.31) scale(1.2801,1)" font-family='"Liberation Serif", serif'  font-size="32.40" fill="#000">=</text>
<text transform="translate(260.77,532.80) scale(1.09,1)" font-family='"Liberation Serif", serif'  font-size="24.9" fill="#000" style="letter-spacing:1.773px">0.25</text>
<text transform="translate(394.32,640.79) scale(1.1957,1)" font-family='"Liberation Serif", serif' font-style="italic" font-size="31.95" fill="#000">t</text>
<text transform="translate(408.47,643.68) scale(0.5738,1)" font-family='"Liberation Serif", serif'  font-size="36.01" fill="#000">[</text>
<text transform="translate(419.41,629.50) scale(1.2588,1)" font-family='"Liberation Serif", serif'  font-size="21.6" fill="#000" >2</text>
<text transform="translate(433.45,629.50) scale(1.2272,1)" font-family='"Liberation Serif", serif' font-style="italic" font-size="22" fill="#000" >π</text>
<line x1="419.50" y1="633.90" x2="449.80" y2="633.90" stroke="#000" stroke-width="1.5" stroke-linecap="butt"/>
<text transform="translate(425.57,653.20) scale(1.1347,1)" font-family='"Liberation Serif", serif' font-style="italic" font-size="22" fill="#000" >ω</text>
<text transform="translate(453.67,643.68) scale(0.5613,1)" font-family='"Liberation Serif", serif'  font-size="36.01" fill="#000">]</text>
<g transform="translate(27.8,212.6) rotate(-90)">
<text transform="translate(-1.99,2.24) scale(0.7103,1)" font-family='"Liberation Serif", "DejaVu Math TeX Gyre", "DejaVu Serif", "DejaVu Sans", serif'  font-size="35.07" fill="#000">⟨</text>
<text transform="translate(6.43,0.87) scale(1.0755,1)" font-family='"Liberation Serif", "DejaVu Math TeX Gyre", "DejaVu Serif", "DejaVu Sans", serif'  font-size="27.60" fill="#000" stroke="#000" stroke-width="0.5">ℋ</text>
<text transform="translate(34.96,4.10) scale(1.2737,1)" font-family='"Liberation Serif", serif'  font-size="21" fill="#000" >e</text>
<text transform="translate(50.62,0.45) scale(0.8945,1)" font-family='"Liberation Serif", serif'  font-size="32.64" fill="#000">(</text>
<text transform="translate(60.30,-0.11) scale(0.9930,1)" font-family='"Liberation Serif", serif' font-style="italic" font-size="32.13" fill="#000">t</text>
<text transform="translate(72.86,0.45) scale(0.8945,1)" font-family='"Liberation Serif", serif'  font-size="32.64" fill="#000">)</text>
<text transform="translate(84.26,2.24) scale(0.7203,1)" font-family='"Liberation Serif", "DejaVu Math TeX Gyre", "DejaVu Serif", "DejaVu Sans", serif'  font-size="35.07" fill="#000">⟩</text>
<text transform="translate(98.17,2.62) scale(0.5777,1)" font-family='"Liberation Serif", serif'  font-size="35.76" fill="#000">[</text>
<text transform="translate(106.03,0.40) scale(1.2148,1)" font-family='"Liberation Serif", serif' font-style="italic" font-size="31.15" fill="#000">J</text>
<text transform="translate(124.80,2.62) scale(0.5400,1)" font-family='"Liberation Serif", serif'  font-size="35.76" fill="#000">]</text>
</g>
<g transform="translate(34.5,387.8) rotate(-90)">
<text transform="translate(-1.94,2.24) scale(0.6903,1)" font-family='"Liberation Serif", "DejaVu Math TeX Gyre", "DejaVu Serif", "DejaVu Sans", serif'  font-size="35.07" fill="#000">⟨</text>
<text transform="translate(7.25,0.57) scale(1.0093,1)" font-family='"Liberation Serif", "DejaVu Math TeX Gyre", "DejaVu Serif", "DejaVu Sans", serif'  font-size="27.86" fill="#000" stroke="#000" stroke-width="0.5">ℋ</text>
<text transform="translate(35.65,5.00) scale(1.3441,1)" font-family='"Liberation Serif", serif'  font-size="21" fill="#000" >ph</text>
<text transform="translate(68.82,0.45) scale(0.8230,1)" font-family='"Liberation Serif", serif'  font-size="32.64" fill="#000">(</text>
<text transform="translate(78.28,-0.11) scale(1.0788,1)" font-family='"Liberation Serif", serif' font-style="italic" font-size="32.13" fill="#000">t</text>
<text transform="translate(90.68,0.45) scale(0.8707,1)" font-family='"Liberation Serif", serif'  font-size="32.64" fill="#000">)</text>
<text transform="translate(101.82,2.24) scale(0.7404,1)" font-family='"Liberation Serif", "DejaVu Math TeX Gyre", "DejaVu Serif", "DejaVu Sans", serif'  font-size="35.07" fill="#000">⟩</text>
<text transform="translate(115.47,2.62) scale(0.5777,1)" font-family='"Liberation Serif", serif'  font-size="35.76" fill="#000">[</text>
<text transform="translate(121.83,0.12) scale(1.0072,1)" font-family='"Liberation Serif", serif' font-style="italic" font-size="29.05" fill="#000">ω</text>
<text transform="translate(142.90,2.62) scale(0.5400,1)" font-family='"Liberation Serif", serif'  font-size="35.76" fill="#000">]</text>
</g>
<g transform="translate(25.4,561.6) rotate(-90)">
<text transform="translate(-2.13,2.24) scale(0.7604,1)" font-family='"Liberation Serif", "DejaVu Math TeX Gyre", "DejaVu Serif", "DejaVu Sans", serif'  font-size="35.07" fill="#000">⟨</text>
<text transform="translate(8.01,0.25) scale(0.9320,1)" font-family='"Liberation Serif", "DejaVu Math TeX Gyre", "DejaVu Serif", "DejaVu Sans", serif'  font-size="26.66" fill="#000" stroke="#000" stroke-width="0.5">𝒱</text>
<text transform="translate(28.28,5.40) scale(1.3695,1)" font-family='"Liberation Serif", serif'  font-size="21" fill="#000" >e-ph</text>
<text transform="translate(83.21,0.45) scale(0.9661,1)" font-family='"Liberation Serif", serif'  font-size="32.64" fill="#000">(</text>
<text transform="translate(93.91,-0.11) scale(1.0543,1)" font-family='"Liberation Serif", serif' font-style="italic" font-size="32.13" fill="#000">t</text>
<text transform="translate(105.72,0.45) scale(0.9303,1)" font-family='"Liberation Serif", serif'  font-size="32.64" fill="#000">)</text>
<text transform="translate(117.34,2.24) scale(0.7303,1)" font-family='"Liberation Serif", "DejaVu Math TeX Gyre", "DejaVu Serif", "DejaVu Sans", serif'  font-size="35.07" fill="#000">⟩</text>
<text transform="translate(130.90,2.62) scale(0.6028,1)" font-family='"Liberation Serif", serif'  font-size="35.76" fill="#000">[</text>
<text transform="translate(139.40,0.40) scale(1.0706,1)" font-family='"Liberation Serif", serif' font-style="italic" font-size="31.15" fill="#000">J</text>
<text transform="translate(156.70,2.62) scale(0.6153,1)" font-family='"Liberation Serif", serif'  font-size="35.76" fill="#000">]</text>
</g>
<text transform="translate(-0.57,33.09) scale(0.9013,1)" font-family='"Liberation Sans", sans-serif' font-weight="bold" font-size="52.02" fill="#000">a</text>
<text transform="translate(794.12,37.21) scale(1.0563,1)" font-family='"Liberation Sans", sans-serif' font-weight="bold" font-size="49.97" fill="#000">b</text>
<line x1="900.10" y1="66.15" x2="900.10" y2="79.35" stroke="#000" stroke-width="3.0" stroke-linecap="butt"/>
<line x1="900.10" y1="561.90" x2="900.10" y2="548.70" stroke="#000" stroke-width="3.0" stroke-linecap="butt"/>
<text transform="translate(891.72,595.40) scale(1.0794,1)" font-family='"Liberation Serif", serif'  font-size="30.5" fill="#000" >3</text>
<line x1="940.40" y1="66.15" x2="940.40" y2="79.35" stroke="#000" stroke-width="3.0" stroke-linecap="butt"/>
<line x1="940.40" y1="561.90" x2="940.40" y2="548.70" stroke="#000" stroke-width="3.0" stroke-linecap="butt"/>
<text transform="translate(933.03,595.40) scale(0.9593,1)" font-family='"Liberation Serif", serif'  font-size="30.5" fill="#000" >4</text>
<line x1="980.70" y1="66.15" x2="980.70" y2="79.35" stroke="#000" stroke-width="3.0" stroke-linecap="butt"/>
<line x1="980.70" y1="561.90" x2="980.70" y2="548.70" stroke="#000" stroke-width="3.0" stroke-linecap="butt"/>
<text transform="translate(971.94,595.40) scale(1.1069,1)" font-family='"Liberation Serif", serif'  font-size="30.5" fill="#000" >5</text>
<line x1="1021.00" y1="66.15" x2="1021.00" y2="79.35" stroke="#000" stroke-width="3.0" stroke-linecap="butt"/>
<line x1="1021.00" y1="561.90" x2="1021.00" y2="548.70" stroke="#000" stroke-width="3.0" stroke-linecap="butt"/>
<text transform="translate(1012.83,595.40) scale(1.0437,1)" font-family='"Liberation Serif", serif'  font-size="30.5" fill="#000" >6</text>
<line x1="859.80" y1="66.15" x2="873.00" y2="66.15" stroke="#000" stroke-width="3.0" stroke-linecap="butt"/>
<line x1="1061.30" y1="66.15" x2="1048.10" y2="66.15" stroke="#000" stroke-width="3.0" stroke-linecap="butt"/>
<text transform="translate(806.55,77.05) scale(1.0647,1)" font-family='"Liberation Serif", serif'  font-size="30.5" fill="#000" >1.0</text>
<line x1="859.80" y1="128.12" x2="873.00" y2="128.12" stroke="#000" stroke-width="3.0" stroke-linecap="butt"/>
<line x1="1061.30" y1="128.12" x2="1048.10" y2="128.12" stroke="#000" stroke-width="3.0" stroke-linecap="butt"/>
<text transform="translate(807.08,139.02) scale(1.0502,1)" font-family='"Liberation Serif", serif'  font-size="30.5" fill="#000" >0.8</text>
<line x1="859.80" y1="190.09" x2="873.00" y2="190.09" stroke="#000" stroke-width="3.0" stroke-linecap="butt"/>
<line x1="1061.30" y1="190.09" x2="1048.10" y2="190.09" stroke="#000" stroke-width="3.0" stroke-linecap="butt"/>
<text transform="translate(807.09,200.99) scale(1.0429,1)" font-family='"Liberation Serif", serif'  font-size="30.5" fill="#000" >0.6</text>
<line x1="859.80" y1="252.06" x2="873.00" y2="252.06" stroke="#000" stroke-width="3.0" stroke-linecap="butt"/>
<line x1="1061.30" y1="252.06" x2="1048.10" y2="252.06" stroke="#000" stroke-width="3.0" stroke-linecap="butt"/>
<text transform="translate(807.10,262.96) scale(1.0305,1)" font-family='"Liberation Serif", serif'  font-size="30.5" fill="#000" >0.4</text>
<line x1="859.80" y1="314.02" x2="873.00" y2="314.02" stroke="#000" stroke-width="3.0" stroke-linecap="butt"/>
<line x1="1061.30" y1="314.02" x2="1048.10" y2="314.02" stroke="#000" stroke-width="3.0" stroke-linecap="butt"/>
<text transform="translate(807.06,324.92) scale(1.0657,1)" font-family='"Liberation Serif", serif'  font-size="30.5" fill="#000" >0.2</text>
<line x1="859.80" y1="375.99" x2="873.00" y2="375.99" stroke="#000" stroke-width="3.0" stroke-linecap="butt"/>
<line x1="1061.30" y1="375.99" x2="1048.10" y2="375.99" stroke="#000" stroke-width="3.0" stroke-linecap="butt"/>
<text transform="translate(807.08,386.89) scale(1.0502,1)" font-family='"Liberation Serif", serif'  font-size="30.5" fill="#000" >0.0</text>
<line x1="859.80" y1="437.96" x2="873.00" y2="437.96" stroke="#000" stroke-width="3.0" stroke-linecap="butt"/>
<line x1="1061.30" y1="437.96" x2="1048.10" y2="437.96" stroke="#000" stroke-width="3.0" stroke-linecap="butt"/>
<text transform="translate(783.53,450.76) scale(1.3599,1)" font-family='"Liberation Serif", serif'  font-size="30.5" fill="#000" >−</text>
<text transform="translate(807.37,448.86) scale(1.0572,1)" font-family='"Liberation Serif", serif'  font-size="30.5" fill="#000" >0.2</text>
<line x1="859.80" y1="499.93" x2="873.00" y2="499.93" stroke="#000" stroke-width="3.0" stroke-linecap="butt"/>
<line x1="1061.30" y1="499.93" x2="1048.10" y2="499.93" stroke="#000" stroke-width="3.0" stroke-linecap="butt"/>
<text transform="translate(783.53,512.73) scale(1.3599,1)" font-family='"Liberation Serif", serif'  font-size="30.5" fill="#000" >−</text>
<text transform="translate(807.41,510.83) scale(1.0223,1)" font-family='"Liberation Serif", serif'  font-size="30.5" fill="#000" >0.4</text>
<line x1="859.80" y1="561.90" x2="873.00" y2="561.90" stroke="#000" stroke-width="3.0" stroke-linecap="butt"/>
<line x1="1061.30" y1="561.90" x2="1048.10" y2="561.90" stroke="#000" stroke-width="3.0" stroke-linecap="butt"/>
<text transform="translate(783.53,574.70) scale(1.3599,1)" font-family='"Liberation Serif", serif'  font-size="30.5" fill="#000" >−</text>
<text transform="translate(807.40,572.80) scale(1.0345,1)" font-family='"Liberation Serif", serif'  font-size="30.5" fill="#000" >0.6</text>
<circle cx="900.10" cy="252.80" r="12.85" fill="#b3d3e8"/>
<circle cx="940.40" cy="199.60" r="12.85" fill="#b3d3e8"/>
<circle cx="980.70" cy="168.00" r="12.85" fill="#b3d3e8"/>
<circle cx="1021.00" cy="169.20" r="12.85" fill="#b3d3e8"/>
<circle cx="900.10" cy="249.60" r="12.85" fill="#3a89c2"/>
<circle cx="940.40" cy="205.70" r="12.85" fill="#3a89c2"/>
<circle cx="980.70" cy="169.70" r="12.85" fill="#3a89c2"/>
<circle cx="1021.00" cy="174.10" r="12.85" fill="#3a89c2"/>
<circle cx="900.10" cy="247.00" r="12.85" fill="#08306b"/>
<circle cx="940.40" cy="208.70" r="12.85" fill="#08306b"/>
<circle cx="980.70" cy="171.30" r="12.85" fill="#08306b"/>
<rect x="859.8" y="66.15" width="201.5" height="495.75" fill="none" stroke="#000" stroke-width="3.8"/>
<text transform="translate(951.96,635.50) scale(1.1862,1)" font-family='"Liberation Serif", serif' font-style="italic" font-size="29.8" fill="#000" >L</text>
<line x1="1230.20" y1="66.15" x2="1230.20" y2="79.35" stroke="#000" stroke-width="3.0" stroke-linecap="butt"/>
<line x1="1230.20" y1="561.90" x2="1230.20" y2="548.70" stroke="#000" stroke-width="3.0" stroke-linecap="butt"/>
<text transform="translate(1221.82,595.40) scale(1.0794,1)" font-family='"Liberation Serif", serif'  font-size="30.5" fill="#000" >3</text>
<line x1="1270.50" y1="66.15" x2="1270.50" y2="79.35" stroke="#000" stroke-width="3.0" stroke-linecap="butt"/>
<line x1="1270.50" y1="561.90" x2="1270.50" y2="548.70" stroke="#000" stroke-width="3.0" stroke-linecap="butt"/>
<text transform="translate(1263.13,595.40) scale(0.9593,1)" font-family='"Liberation Serif", serif'  font-size="30.5" fill="#000" >4</text>
<line x1="1310.80" y1="66.15" x2="1310.80" y2="79.35" stroke="#000" stroke-width="3.0" stroke-linecap="butt"/>
<line x1="1310.80" y1="561.90" x2="1310.80" y2="548.70" stroke="#000" stroke-width="3.0" stroke-linecap="butt"/>
<text transform="translate(1302.04,595.40) scale(1.1069,1)" font-family='"Liberation Serif", serif'  font-size="30.5" fill="#000" >5</text>
<line x1="1351.10" y1="66.15" x2="1351.10" y2="79.35" stroke="#000" stroke-width="3.0" stroke-linecap="butt"/>
<line x1="1351.10" y1="561.90" x2="1351.10" y2="548.70" stroke="#000" stroke-width="3.0" stroke-linecap="butt"/>
<text transform="translate(1342.93,595.40) scale(1.0437,1)" font-family='"Liberation Serif", serif'  font-size="30.5" fill="#000" >6</text>
<line x1="1189.90" y1="66.15" x2="1203.10" y2="66.15" stroke="#000" stroke-width="3.0" stroke-linecap="butt"/>
<line x1="1391.40" y1="66.15" x2="1378.20" y2="66.15" stroke="#000" stroke-width="3.0" stroke-linecap="butt"/>
<text transform="translate(1136.65,77.05) scale(1.0647,1)" font-family='"Liberation Serif", serif'  font-size="30.5" fill="#000" >1.0</text>
<line x1="1189.90" y1="128.12" x2="1203.10" y2="128.12" stroke="#000" stroke-width="3.0" stroke-linecap="butt"/>
<line x1="1391.40" y1="128.12" x2="1378.20" y2="128.12" stroke="#000" stroke-width="3.0" stroke-linecap="butt"/>
<text transform="translate(1137.18,139.02) scale(1.0502,1)" font-family='"Liberation Serif", serif'  font-size="30.5" fill="#000" >0.8</text>
<line x1="1189.90" y1="190.09" x2="1203.10" y2="190.09" stroke="#000" stroke-width="3.0" stroke-linecap="butt"/>
<line x1="1391.40" y1="190.09" x2="1378.20" y2="190.09" stroke="#000" stroke-width="3.0" stroke-linecap="butt"/>
<text transform="translate(1137.19,200.99) scale(1.0429,1)" font-family='"Liberation Serif", serif'  font-size="30.5" fill="#000" >0.6</text>
<line x1="1189.90" y1="252.06" x2="1203.10" y2="252.06" stroke="#000" stroke-width="3.0" stroke-linecap="butt"/>
<line x1="1391.40" y1="252.06" x2="1378.20" y2="252.06" stroke="#000" stroke-width="3.0" stroke-linecap="butt"/>
<text transform="translate(1137.20,262.96) scale(1.0305,1)" font-family='"Liberation Serif", serif'  font-size="30.5" fill="#000" >0.4</text>
<line x1="1189.90" y1="314.02" x2="1203.10" y2="314.02" stroke="#000" stroke-width="3.0" stroke-linecap="butt"/>
<line x1="1391.40" y1="314.02" x2="1378.20" y2="314.02" stroke="#000" stroke-width="3.0" stroke-linecap="butt"/>
<text transform="translate(1137.16,324.92) scale(1.0657,1)" font-family='"Liberation Serif", serif'  font-size="30.5" fill="#000" >0.2</text>
<line x1="1189.90" y1="375.99" x2="1203.10" y2="375.99" stroke="#000" stroke-width="3.0" stroke-linecap="butt"/>
<line x1="1391.40" y1="375.99" x2="1378.20" y2="375.99" stroke="#000" stroke-width="3.0" stroke-linecap="butt"/>
<text transform="translate(1137.18,386.89) scale(1.0502,1)" font-family='"Liberation Serif", serif'  font-size="30.5" fill="#000" >0.0</text>
<line x1="1189.90" y1="437.96" x2="1203.10" y2="437.96" stroke="#000" stroke-width="3.0" stroke-linecap="butt"/>
<line x1="1391.40" y1="437.96" x2="1378.20" y2="437.96" stroke="#000" stroke-width="3.0" stroke-linecap="butt"/>
<text transform="translate(1113.63,450.76) scale(1.3599,1)" font-family='"Liberation Serif", serif'  font-size="30.5" fill="#000" >−</text>
<text transform="translate(1137.47,448.86) scale(1.0572,1)" font-family='"Liberation Serif", serif'  font-size="30.5" fill="#000" >0.2</text>
<line x1="1189.90" y1="499.93" x2="1203.10" y2="499.93" stroke="#000" stroke-width="3.0" stroke-linecap="butt"/>
<line x1="1391.40" y1="499.93" x2="1378.20" y2="499.93" stroke="#000" stroke-width="3.0" stroke-linecap="butt"/>
<text transform="translate(1113.63,512.73) scale(1.3599,1)" font-family='"Liberation Serif", serif'  font-size="30.5" fill="#000" >−</text>
<text transform="translate(1137.51,510.83) scale(1.0223,1)" font-family='"Liberation Serif", serif'  font-size="30.5" fill="#000" >0.4</text>
<line x1="1189.90" y1="561.90" x2="1203.10" y2="561.90" stroke="#000" stroke-width="3.0" stroke-linecap="butt"/>
<line x1="1391.40" y1="561.90" x2="1378.20" y2="561.90" stroke="#000" stroke-width="3.0" stroke-linecap="butt"/>
<text transform="translate(1113.63,574.70) scale(1.3599,1)" font-family='"Liberation Serif", serif'  font-size="30.5" fill="#000" >−</text>
<text transform="translate(1137.50,572.80) scale(1.0345,1)" font-family='"Liberation Serif", serif'  font-size="30.5" fill="#000" >0.6</text>
<circle cx="1230.20" cy="424.90" r="12.85" fill="#b3d3e8"/>
<circle cx="1270.50" cy="467.50" r="12.85" fill="#b3d3e8"/>
<circle cx="1310.80" cy="516.60" r="12.85" fill="#b3d3e8"/>
<circle cx="1351.10" cy="508.20" r="12.85" fill="#b3d3e8"/>
<circle cx="1230.20" cy="412.70" r="12.85" fill="#3a89c2"/>
<circle cx="1270.50" cy="435.10" r="12.85" fill="#3a89c2"/>
<circle cx="1310.80" cy="496.00" r="12.85" fill="#3a89c2"/>
<circle cx="1351.10" cy="480.60" r="12.85" fill="#3a89c2"/>
<circle cx="1230.20" cy="403.60" r="12.85" fill="#08306b"/>
<circle cx="1270.50" cy="412.70" r="12.85" fill="#08306b"/>
<circle cx="1310.80" cy="480.90" r="12.85" fill="#08306b"/>
<rect x="1189.9" y="66.15" width="201.5" height="495.75" fill="none" stroke="#000" stroke-width="3.8"/>
<text transform="translate(1282.06,635.50) scale(1.1862,1)" font-family='"Liberation Serif", serif' font-style="italic" font-size="29.8" fill="#000" >L</text>
<line x1="1559.60" y1="66.15" x2="1559.60" y2="79.35" stroke="#000" stroke-width="3.0" stroke-linecap="butt"/>
<line x1="1559.60" y1="561.90" x2="1559.60" y2="548.70" stroke="#000" stroke-width="3.0" stroke-linecap="butt"/>
<text transform="translate(1551.22,595.40) scale(1.0794,1)" font-family='"Liberation Serif", serif'  font-size="30.5" fill="#000" >3</text>
<line x1="1599.90" y1="66.15" x2="1599.90" y2="79.35" stroke="#000" stroke-width="3.0" stroke-linecap="butt"/>
<line x1="1599.90" y1="561.90" x2="1599.90" y2="548.70" stroke="#000" stroke-width="3.0" stroke-linecap="butt"/>
<text transform="translate(1592.53,595.40) scale(0.9593,1)" font-family='"Liberation Serif", serif'  font-size="30.5" fill="#000" >4</text>
<line x1="1640.20" y1="66.15" x2="1640.20" y2="79.35" stroke="#000" stroke-width="3.0" stroke-linecap="butt"/>
<line x1="1640.20" y1="561.90" x2="1640.20" y2="548.70" stroke="#000" stroke-width="3.0" stroke-linecap="butt"/>
<text transform="translate(1631.44,595.40) scale(1.1069,1)" font-family='"Liberation Serif", serif'  font-size="30.5" fill="#000" >5</text>
<line x1="1680.50" y1="66.15" x2="1680.50" y2="79.35" stroke="#000" stroke-width="3.0" stroke-linecap="butt"/>
<line x1="1680.50" y1="561.90" x2="1680.50" y2="548.70" stroke="#000" stroke-width="3.0" stroke-linecap="butt"/>
<text transform="translate(1672.33,595.40) scale(1.0437,1)" font-family='"Liberation Serif", serif'  font-size="30.5" fill="#000" >6</text>
<line x1="1519.30" y1="66.15" x2="1532.50" y2="66.15" stroke="#000" stroke-width="3.0" stroke-linecap="butt"/>
<line x1="1720.80" y1="66.15" x2="1707.60" y2="66.15" stroke="#000" stroke-width="3.0" stroke-linecap="butt"/>
<text transform="translate(1466.05,77.05) scale(1.0647,1)" font-family='"Liberation Serif", serif'  font-size="30.5" fill="#000" >1.0</text>
<line x1="1519.30" y1="128.12" x2="1532.50" y2="128.12" stroke="#000" stroke-width="3.0" stroke-linecap="butt"/>
<line x1="1720.80" y1="128.12" x2="1707.60" y2="128.12" stroke="#000" stroke-width="3.0" stroke-linecap="butt"/>
<text transform="translate(1466.58,139.02) scale(1.0502,1)" font-family='"Liberation Serif", serif'  font-size="30.5" fill="#000" >0.8</text>
<line x1="1519.30" y1="190.09" x2="1532.50" y2="190.09" stroke="#000" stroke-width="3.0" stroke-linecap="butt"/>
<line x1="1720.80" y1="190.09" x2="1707.60" y2="190.09" stroke="#000" stroke-width="3.0" stroke-linecap="butt"/>
<text transform="translate(1466.59,200.99) scale(1.0429,1)" font-family='"Liberation Serif", serif'  font-size="30.5" fill="#000" >0.6</text>
<line x1="1519.30" y1="252.06" x2="1532.50" y2="252.06" stroke="#000" stroke-width="3.0" stroke-linecap="butt"/>
<line x1="1720.80" y1="252.06" x2="1707.60" y2="252.06" stroke="#000" stroke-width="3.0" stroke-linecap="butt"/>
<text transform="translate(1466.60,262.96) scale(1.0305,1)" font-family='"Liberation Serif", serif'  font-size="30.5" fill="#000" >0.4</text>
<line x1="1519.30" y1="314.02" x2="1532.50" y2="314.02" stroke="#000" stroke-width="3.0" stroke-linecap="butt"/>
<line x1="1720.80" y1="314.02" x2="1707.60" y2="314.02" stroke="#000" stroke-width="3.0" stroke-linecap="butt"/>
<text transform="translate(1466.56,324.92) scale(1.0657,1)" font-family='"Liberation Serif", serif'  font-size="30.5" fill="#000" >0.2</text>
<line x1="1519.30" y1="375.99" x2="1532.50" y2="375.99" stroke="#000" stroke-width="3.0" stroke-linecap="butt"/>
<line x1="1720.80" y1="375.99" x2="1707.60" y2="375.99" stroke="#000" stroke-width="3.0" stroke-linecap="butt"/>
<text transform="translate(1466.58,386.89) scale(1.0502,1)" font-family='"Liberation Serif", serif'  font-size="30.5" fill="#000" >0.0</text>
<line x1="1519.30" y1="437.96" x2="1532.50" y2="437.96" stroke="#000" stroke-width="3.0" stroke-linecap="butt"/>
<line x1="1720.80" y1="437.96" x2="1707.60" y2="437.96" stroke="#000" stroke-width="3.0" stroke-linecap="butt"/>
<text transform="translate(1443.03,450.76) scale(1.3599,1)" font-family='"Liberation Serif", serif'  font-size="30.5" fill="#000" >−</text>
<text transform="translate(1466.87,448.86) scale(1.0572,1)" font-family='"Liberation Serif", serif'  font-size="30.5" fill="#000" >0.2</text>
<line x1="1519.30" y1="499.93" x2="1532.50" y2="499.93" stroke="#000" stroke-width="3.0" stroke-linecap="butt"/>
<line x1="1720.80" y1="499.93" x2="1707.60" y2="499.93" stroke="#000" stroke-width="3.0" stroke-linecap="butt"/>
<text transform="translate(1443.03,512.73) scale(1.3599,1)" font-family='"Liberation Serif", serif'  font-size="30.5" fill="#000" >−</text>
<text transform="translate(1466.91,510.83) scale(1.0223,1)" font-family='"Liberation Serif", serif'  font-size="30.5" fill="#000" >0.4</text>
<line x1="1519.30" y1="561.90" x2="1532.50" y2="561.90" stroke="#000" stroke-width="3.0" stroke-linecap="butt"/>
<line x1="1720.80" y1="561.90" x2="1707.60" y2="561.90" stroke="#000" stroke-width="3.0" stroke-linecap="butt"/>
<text transform="translate(1443.03,574.70) scale(1.3599,1)" font-family='"Liberation Serif", serif'  font-size="30.5" fill="#000" >−</text>
<text transform="translate(1466.90,572.80) scale(1.0345,1)" font-family='"Liberation Serif", serif'  font-size="30.5" fill="#000" >0.6</text>
<circle cx="1559.60" cy="449.60" r="12.85" fill="#b3d3e8"/>
<circle cx="1599.90" cy="460.00" r="12.85" fill="#b3d3e8"/>
<circle cx="1640.20" cy="442.40" r="12.85" fill="#b3d3e8"/>
<circle cx="1680.50" cy="449.60" r="12.85" fill="#b3d3e8"/>
<circle cx="1559.60" cy="464.90" r="12.85" fill="#3a89c2"/>
<circle cx="1599.90" cy="486.70" r="12.85" fill="#3a89c2"/>
<circle cx="1640.20" cy="461.00" r="12.85" fill="#3a89c2"/>
<circle cx="1680.50" cy="473.50" r="12.85" fill="#3a89c2"/>
<rect x="1555.85" y="477.20" width="7.5" height="13.9" fill="#08306b"/>
<circle cx="1559.60" cy="477.20" r="12.85" fill="#08306b"/>
<circle cx="1599.90" cy="506.00" r="12.85" fill="#08306b"/>
<circle cx="1640.20" cy="475.20" r="12.85" fill="#08306b"/>
<rect x="1519.3" y="66.15" width="201.5" height="495.75" fill="none" stroke="#000" stroke-width="3.8"/>
<text transform="translate(1611.46,635.50) scale(1.1862,1)" font-family='"Liberation Serif", serif' font-style="italic" font-size="29.8" fill="#000" >L</text>
<rect x="890.2" y="438.60" width="7.5" height="28" fill="#b3d3e8"/>
<circle cx="893.95" cy="452.6" r="13.1" fill="#b3d3e8"/>
<text transform="translate(926.55,461.55) scale(1.0027,1)" font-family='"Liberation Serif", serif' font-style="italic" font-size="24.71" fill="#000">d</text>
<text transform="translate(941.86,464.53) scale(1.3916,1)" font-family='"Liberation Serif", serif' font-style="italic" font-size="17.71" fill="#000">ν</text>
<text transform="translate(964.38,466.11) scale(1.3133,1)" font-family='"Liberation Serif", serif'  font-size="32.40" fill="#000">=</text>
<text transform="translate(996.45,461.60) scale(1.2129,1)" font-family='"Liberation Serif", serif'  font-size="24.9" fill="#000" >8</text>
<rect x="890.2" y="475.50" width="7.5" height="28" fill="#3a89c2"/>
<circle cx="893.95" cy="489.5" r="13.1" fill="#3a89c2"/>
<text transform="translate(926.55,498.45) scale(1.0027,1)" font-family='"Liberation Serif", serif' font-style="italic" font-size="24.71" fill="#000">d</text>
<text transform="translate(941.86,501.43) scale(1.3916,1)" font-family='"Liberation Serif", serif' font-style="italic" font-size="17.71" fill="#000">ν</text>
<text transform="translate(964.38,503.01) scale(1.3133,1)" font-family='"Liberation Serif", serif'  font-size="32.40" fill="#000">=</text>
<text transform="translate(996.21,498.50) scale(1.09,1)" font-family='"Liberation Serif", serif'  font-size="24.9" fill="#000" style="letter-spacing:2.640px">10</text>
<rect x="890.2" y="512.50" width="7.5" height="28" fill="#08306b"/>
<circle cx="893.95" cy="526.5" r="13.1" fill="#08306b"/>
<text transform="translate(926.55,535.45) scale(1.0027,1)" font-family='"Liberation Serif", serif' font-style="italic" font-size="24.71" fill="#000">d</text>
<text transform="translate(941.86,538.43) scale(1.3916,1)" font-family='"Liberation Serif", serif' font-style="italic" font-size="17.71" fill="#000">ν</text>
<text transform="translate(964.38,540.01) scale(1.3133,1)" font-family='"Liberation Serif", serif'  font-size="32.40" fill="#000">=</text>
<text transform="translate(996.21,535.50) scale(1.09,1)" font-family='"Liberation Serif", serif'  font-size="24.9" fill="#000" style="letter-spacing:3.066px">12</text>
<text transform="translate(845.72,43.80) scale(1.2433,1)" font-family='"Liberation Serif", serif'  font-size="37.57" fill="#000">Δ</text>
<text transform="translate(877.50,46.57) scale(0.7018,1)" font-family='"Liberation Serif", "DejaVu Math TeX Gyre", "DejaVu Serif", "DejaVu Sans", serif'  font-size="41.00" fill="#000">⟨</text>
<text transform="translate(888.17,45.87) scale(0.9803,1)" font-family='"Liberation Serif", "DejaVu Math TeX Gyre", "DejaVu Serif", "DejaVu Sans", serif'  font-size="33.59" fill="#000" stroke="#000" stroke-width="0.5">ℋ</text>
<text transform="translate(919.67,48.90) scale(1.3350,1)" font-family='"Liberation Serif", serif'  font-size="25.5" fill="#000" >e</text>
<text transform="translate(936.18,46.57) scale(0.7018,1)" font-family='"Liberation Serif", "DejaVu Math TeX Gyre", "DejaVu Serif", "DejaVu Sans", serif'  font-size="41.00" fill="#000">⟩</text>
<text transform="translate(951.80,52.09) scale(0.9603,1)" font-family='"Liberation Serif", serif'  font-size="51.72" fill="#000">/</text>
<text transform="translate(968.78,44.51) scale(0.9529,1)" font-family='"Liberation Serif", serif'  font-size="37.93" fill="#000">|</text>
<text transform="translate(978.97,46.57) scale(0.7104,1)" font-family='"Liberation Serif", "DejaVu Math TeX Gyre", "DejaVu Serif", "DejaVu Sans", serif'  font-size="41.00" fill="#000">⟨</text>
<text transform="translate(989.33,45.87) scale(0.9946,1)" font-family='"Liberation Serif", "DejaVu Math TeX Gyre", "DejaVu Serif", "DejaVu Sans", serif'  font-size="33.59" fill="#000" stroke="#000" stroke-width="0.5">ℋ</text>
<text transform="translate(1021.90,48.90) scale(1.3032,1)" font-family='"Liberation Serif", serif'  font-size="25.5" fill="#000" >e</text>
<text transform="translate(1035.84,52.51) scale(1.1849,1)" font-family='"Liberation Serif", serif'  font-size="19.12" fill="#000">0</text>
<text transform="translate(1051.58,46.57) scale(0.7018,1)" font-family='"Liberation Serif", "DejaVu Math TeX Gyre", "DejaVu Serif", "DejaVu Sans", serif'  font-size="41.00" fill="#000">⟩</text>
<text transform="translate(1066.38,44.51) scale(0.9529,1)" font-family='"Liberation Serif", serif'  font-size="37.93" fill="#000">|</text>
<text transform="translate(1165.72,43.80) scale(1.2433,1)" font-family='"Liberation Serif", serif'  font-size="37.57" fill="#000">Δ</text>
<text transform="translate(1197.50,46.57) scale(0.7018,1)" font-family='"Liberation Serif", "DejaVu Math TeX Gyre", "DejaVu Serif", "DejaVu Sans", serif'  font-size="41.00" fill="#000">⟨</text>
<text transform="translate(1208.17,45.87) scale(0.9803,1)" font-family='"Liberation Serif", "DejaVu Math TeX Gyre", "DejaVu Serif", "DejaVu Sans", serif'  font-size="33.59" fill="#000" stroke="#000" stroke-width="0.5">ℋ</text>
<text transform="translate(1241.40,48.90) scale(1.2160,1)" font-family='"Liberation Serif", serif'  font-size="25.5" fill="#000" >ph</text>
<text transform="translate(1275.38,46.57) scale(0.7018,1)" font-family='"Liberation Serif", "DejaVu Math TeX Gyre", "DejaVu Serif", "DejaVu Sans", serif'  font-size="41.00" fill="#000">⟩</text>
<text transform="translate(1291.00,52.09) scale(0.9603,1)" font-family='"Liberation Serif", serif'  font-size="51.72" fill="#000">/</text>
<text transform="translate(1307.98,44.51) scale(0.9529,1)" font-family='"Liberation Serif", serif'  font-size="37.93" fill="#000">|</text>
<text transform="translate(1318.17,46.57) scale(0.7104,1)" font-family='"Liberation Serif", "DejaVu Math TeX Gyre", "DejaVu Serif", "DejaVu Sans", serif'  font-size="41.00" fill="#000">⟨</text>
<text transform="translate(1328.53,45.87) scale(0.9946,1)" font-family='"Liberation Serif", "DejaVu Math TeX Gyre", "DejaVu Serif", "DejaVu Sans", serif'  font-size="33.59" fill="#000" stroke="#000" stroke-width="0.5">ℋ</text>
<text transform="translate(1361.10,48.90) scale(1.3032,1)" font-family='"Liberation Serif", serif'  font-size="25.5" fill="#000" >e</text>
<text transform="translate(1375.04,52.51) scale(1.1849,1)" font-family='"Liberation Serif", serif'  font-size="19.12" fill="#000">0</text>
<text transform="translate(1390.78,46.57) scale(0.7018,1)" font-family='"Liberation Serif", "DejaVu Math TeX Gyre", "DejaVu Serif", "DejaVu Sans", serif'  font-size="41.00" fill="#000">⟩</text>
<text transform="translate(1405.58,44.51) scale(0.9529,1)" font-family='"Liberation Serif", serif'  font-size="37.93" fill="#000">|</text>
<text transform="translate(1486.92,43.80) scale(1.2433,1)" font-family='"Liberation Serif", serif'  font-size="37.57" fill="#000">Δ</text>
<text transform="translate(1518.70,46.57) scale(0.7018,1)" font-family='"Liberation Serif", "DejaVu Math TeX Gyre", "DejaVu Serif", "DejaVu Sans", serif'  font-size="41.00" fill="#000">⟨</text>
<text transform="translate(1529.56,43.92) scale(0.9246,1)" font-family='"Liberation Serif", "DejaVu Math TeX Gyre", "DejaVu Serif", "DejaVu Sans", serif'  font-size="31.57" fill="#000" stroke="#000" stroke-width="0.5">𝒱</text>
<text transform="translate(1552.71,48.90) scale(1.2961,1)" font-family='"Liberation Serif", serif'  font-size="25.5" fill="#000" >e-ph</text>
<text transform="translate(1613.58,46.57) scale(0.7018,1)" font-family='"Liberation Serif", "DejaVu Math TeX Gyre", "DejaVu Serif", "DejaVu Sans", serif'  font-size="41.00" fill="#000">⟩</text>
<text transform="translate(1629.20,52.09) scale(0.9603,1)" font-family='"Liberation Serif", serif'  font-size="51.72" fill="#000">/</text>
<text transform="translate(1646.18,44.51) scale(0.9529,1)" font-family='"Liberation Serif", serif'  font-size="37.93" fill="#000">|</text>
<text transform="translate(1656.37,46.57) scale(0.7104,1)" font-family='"Liberation Serif", "DejaVu Math TeX Gyre", "DejaVu Serif", "DejaVu Sans", serif'  font-size="41.00" fill="#000">⟨</text>
<text transform="translate(1666.73,45.87) scale(0.9946,1)" font-family='"Liberation Serif", "DejaVu Math TeX Gyre", "DejaVu Serif", "DejaVu Sans", serif'  font-size="33.59" fill="#000" stroke="#000" stroke-width="0.5">ℋ</text>
<text transform="translate(1699.30,48.90) scale(1.3032,1)" font-family='"Liberation Serif", serif'  font-size="25.5" fill="#000" >e</text>
<text transform="translate(1713.24,52.51) scale(1.1849,1)" font-family='"Liberation Serif", serif'  font-size="19.12" fill="#000">0</text>
<text transform="translate(1728.98,46.57) scale(0.7018,1)" font-family='"Liberation Serif", "DejaVu Math TeX Gyre", "DejaVu Serif", "DejaVu Sans", serif'  font-size="41.00" fill="#000">⟩</text>
<text transform="translate(1743.78,44.51) scale(0.9529,1)" font-family='"Liberation Serif", serif'  font-size="37.93" fill="#000">|</text>
</svg>
</body></html>
